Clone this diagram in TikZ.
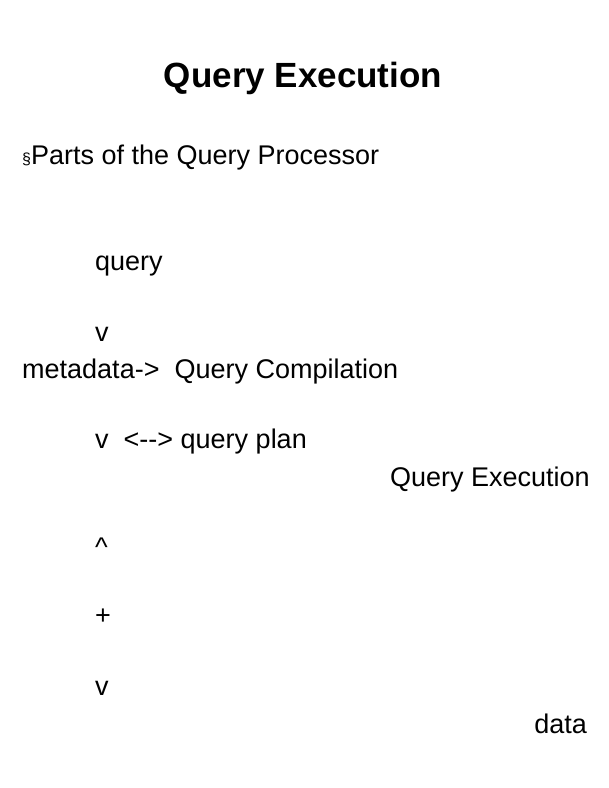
\documentclass[tikz,border=0pt]{standalone}
\usepackage{fontspec}
\setmainfont{Liberation Sans}
\begin{document}
\begin{tikzpicture}[x=1pt,y=-1pt,t/.style={inner sep=0pt,font=\fontsize{27}{30}\selectfont}]
\useasboundingbox (0,0) rectangle (609,788);
\node[inner sep=0pt,font=\bfseries\fontsize{35}{40}\selectfont] (title) at (303,78) {Query Execution};
\node[t,anchor=west] (parts) at (22,158) {{\fontsize{16}{18}\selectfont\S}Parts of the Query Processor};
\node[t,anchor=west] (q) at (95,266) {query};
\node[t,anchor=west] (v1) at (95,334) {v};
\node[t,anchor=west] (meta) at (22,372) {metadata-{>}\ \ Query Compilation};
\node[t,anchor=west] (v2) at (95,442) {v\ \ {<}-{}-{>} query plan};
\node[t,anchor=east] (qe) at (590,480) {Query Execution};
\node[t,anchor=west] (up) at (95,547) {\^{}};
\node[t,anchor=west] (plus) at (95,617) {+};
\node[t,anchor=west] (v3) at (95,688) {v};
\node[t,anchor=east] (data) at (587,724) {data};
\end{tikzpicture}
\end{document}
